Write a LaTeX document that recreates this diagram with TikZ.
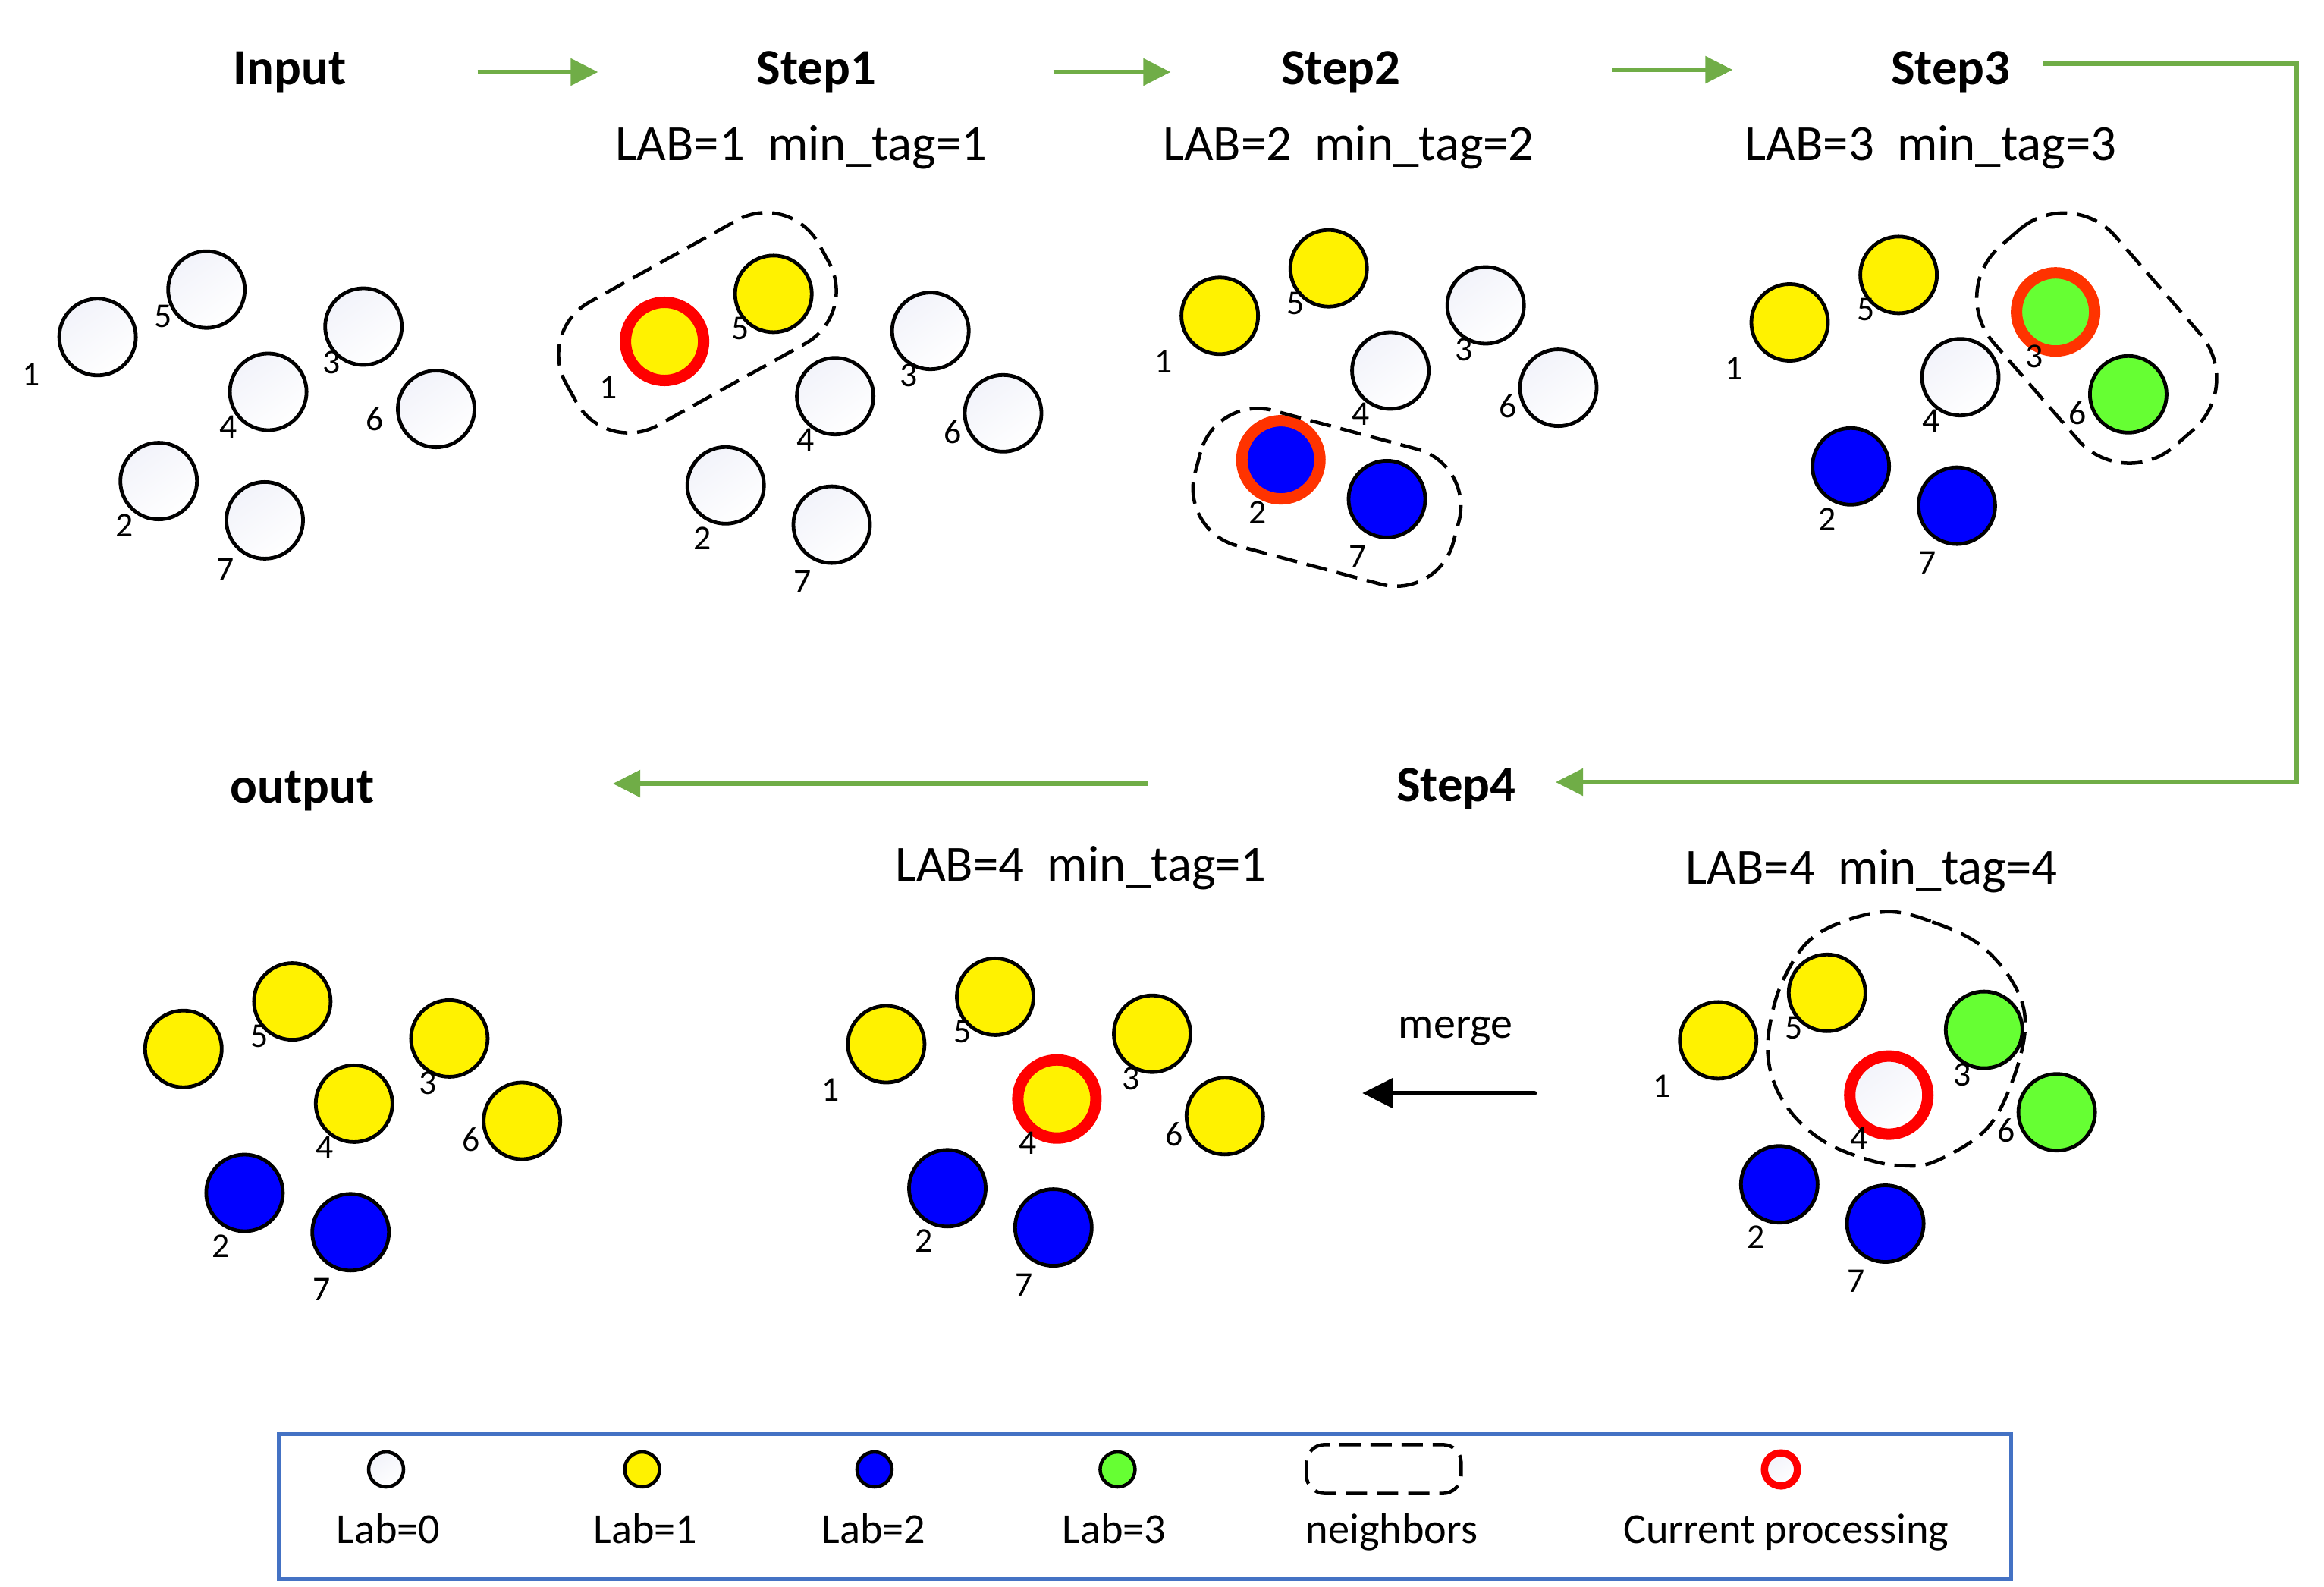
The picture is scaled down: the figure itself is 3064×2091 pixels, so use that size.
\documentclass[tikz,border=0pt]{standalone}
\usepackage{fontspec}
\setmainfont{Carlito}
\usetikzlibrary{arrows.meta}
\definecolor{lgreen}{RGB}{102,255,51}
\definecolor{ored}{RGB}{255,51,0}
\definecolor{agreen}{RGB}{112,173,71}
\definecolor{lbox}{RGB}{68,114,196}
\definecolor{lav}{RGB}{242,243,250}
\tikzset{
  bub/.style={circle, inner sep=0pt, outer sep=0pt, minimum size=1.01cm, draw=black, line width=0.048cm},
  nW/.style={bub, top color=lav, bottom color=white, shading angle=35},
  nY/.style={bub, fill=yellow},
  nB/.style={bub, fill=blue},
  nG/.style={bub, fill=lgreen},
  ringc/.style={minimum size=1.03cm, line width=0.15cm},
  rY/.style={nY, ringc, draw=red},
  rB/.style={nB, ringc, draw=ored},
  rG/.style={nG, ringc, draw=ored},
  rW/.style={nW, ringc, draw=red},
  ttl/.style={font=\fontsize{19}{23}\selectfont\bfseries, anchor=base, inner sep=0pt},
  labtxt/.style={font=\fontsize{19}{23}\selectfont, anchor=base, inner sep=0pt},
  num/.style={font=\fontsize{13}{15}\selectfont, inner sep=0pt},
  legtxt/.style={font=\fontsize{16}{19}\selectfont, anchor=base, inner sep=0pt},
  nbr/.style={draw=black, line width=0.045cm, dash pattern=on 0.28cm off 0.13cm},
  garrow/.style={draw=agreen, line width=0.055cm, -{Triangle[length=0.36cm,width=0.35cm]}},
  legbox/.style={draw=lbox, line width=0.05cm},
}
\newcommand\cpanel[9]{%
  \begin{scope}[shift={#2}]
    \node[#3] (#1c1) at (0,0) {};
    \node[#4] (#1c2) at (80.6,189.8) {};
    \node[#5] (#1c3) at (350.6,-13.8) {};
    \node[#6] (#1c4) at (225,72.2) {};
    \node[#7] (#1c5) at (143.6,-62.6) {};
    \node[#8] (#1c6) at (446.4,94.8) {};
    \node[#9] (#1c7) at (220.4,241.6) {};
  \end{scope}}
\newcommand\clabels[3]{%
  \begin{scope}[shift={#2},shift={#3}]
    \node[num] (#1l5) at (100.2,-16.8) {5};
    \node[num] (#1l3) at (322.2,45) {3};
    \node[num] (#1l4) at (186.2,129.9) {4};
    \node[num] (#1l6) at (379.6,119.2) {6};
    \node[num] (#1l2) at (49.6,259.6) {2};
    \node[num] (#1l7) at (182,317.1) {7};
  \end{scope}}
\newcommand\clabone[3]{%
  \begin{scope}[shift={#2},shift={#3}]
    \node[num] (#1l1) at (-73.8,60.5) {1};
  \end{scope}}
\begin{document}
\begin{tikzpicture}[x=0.01cm,y=-0.01cm]
\useasboundingbox (0,0) rectangle (3064,2091);

% titles
\node[ttl] (tIn) at (382,111.4) {Input};
\node[ttl] (tS1) at (1076.3,111.4) {Step1};
\node[ttl] (tS2) at (1767.9,111.4) {Step2};
\node[ttl] (tS3) at (2572,111.4) {Step3};
\node[labtxt] (lab1) at (1056.7,211.8) {LAB=1~~min\_tag=1};
\node[labtxt] (lab2) at (1777.9,211.8) {LAB=2~~min\_tag=2};
\node[labtxt] (lab3) at (2545.5,211.8) {LAB=3~~min\_tag=3};
\node[ttl] (tOut) at (398.5,1058) {output};
\node[ttl] (tS4) at (1920,1056) {Step4};
\node[labtxt] (lab4a) at (1425,1161.2) {LAB=4~~min\_tag=1};
\node[labtxt] (lab4b) at (2467.6,1165) {LAB=4~~min\_tag=4};
\node[legtxt, font=\fontsize{16.5}{19}\selectfont] (mrg) at (1918.9,1368) {merge};

% arrows
\coordinate (a1s) at (629.5,95); \coordinate (a1e) at (788.4,95);
\coordinate (a2s) at (1388.6,95); \coordinate (a2e) at (1543.3,95);
\coordinate (a3s) at (2125,92); \coordinate (a3e) at (2284.3,92);
\coordinate (a4s) at (2693,84); \coordinate (a4e) at (2051,1031);
\coordinate (c4a) at (3028,84); \coordinate (c4b) at (3028,1031);
\coordinate (a5s) at (1513,1033); \coordinate (a5e) at (808,1033);
\coordinate (m1s) at (2023,1441); \coordinate (m1e) at (1796,1441);
\draw[garrow] (a1s) -- (a1e);
\draw[garrow] (a2s) -- (a2e);
\draw[garrow] (a3s) -- (a3e);
\draw[garrow] (a4s) -- (c4a) -- (c4b) -- (a4e);
\draw[garrow] (a5s) -- (a5e);
\draw[draw=black, line width=0.065cm, line cap=round, -{Triangle[length=0.4cm,width=0.38cm]}] (m1s) -- (m1e);

% panels
\cpanel{in}{(128.6,444.3)}{nW}{nW}{nW}{nW}{nW}{nW}{nW}
\cpanel{sa}{(876.1,450)}{rY}{nW}{nW}{nW}{nY}{nW}{nW}
\cpanel{sb}{(1608.1,416.3)}{nY}{rB}{nW}{nW}{nY}{nW}{nB}
\cpanel{sc}{(2359.5,425)}{nY}{nB}{rG}{nW}{nY}{nG}{nB}
\cpanel{ou}{(241.8,1382.7)}{nY}{nB}{nY}{nY}{nY}{nY}{nB}
\cpanel{mi}{(1168.4,1376.5)}{nY}{nB}{nY}{rY}{nY}{nY}{nB}
\cpanel{sd}{(2265.2,1371.4)}{nY}{nB}{nG}{rW}{nY}{nG}{nB}

% number labels
\clabels{in}{(128.6,444.3)}{(-14,-11)}
\clabone{in}{(128.6,444.3)}{(-14,-11)}
\clabels{sa}{(876.1,450)}{(0,0)}
\clabone{sa}{(876.1,450)}{(0,0)}
\clabels{sb}{(1608.1,416.3)}{(0,0)}
\clabone{sb}{(1608.1,416.3)}{(0,0)}
\clabels{sc}{(2359.5,425)}{(0,0)}
\clabone{sc}{(2359.5,425)}{(0,0)}
\clabels{ou}{(241.8,1382.7)}{(0,0)}
\clabels{mi}{(1168.4,1376.5)}{(0,0)}
\clabone{mi}{(1168.4,1376.5)}{(0,0)}
\clabels{sd}{(2265.2,1371.4)}{(0,0)}
\clabone{sd}{(2265.2,1371.4)}{(0,0)}

% neighbour outlines
\begin{scope}[shift={(919.5,425.5)}, rotate=29]
  \draw[nbr, rounded corners=0.79cm] (-190.3,-92.9) rectangle (190.3,92.9);
\end{scope}
\begin{scope}[shift={(1749.4,655.6)}, rotate=-15]
  \draw[nbr, rounded corners=0.78cm] (-176.3,-92.2) rectangle (176.3,92.2);
\end{scope}
\begin{scope}[shift={(2764.3,445.7)}, rotate=-49]
  \draw[nbr, rounded corners=0.9cm] (-174.8,-106.6) rectangle (174.8,106.6);
\end{scope}
\draw[nbr] plot[smooth cycle, tension=0.6] coordinates {
  (2489.3,1201.8) (2547.3,1215.2) (2609.8,1245.1) (2654.5,1296.4)
  (2670.1,1350) (2654.5,1421.4) (2618.8,1488.4) (2551.8,1530.8)
  (2507.1,1536.6) (2462.5,1528.6) (2408.9,1507.1) (2368.8,1475)
  (2342,1434.8) (2330.8,1390.2) (2335.3,1341.1) (2350.9,1292)
  (2382.1,1242.9) (2426.8,1216.1)};

% legend
\draw[legbox] (367,1890) rectangle (2651.5,2081);
\node[nW, minimum size=0.46cm, line width=0.045cm] (k0) at (509,1937) {};
\node[nY, minimum size=0.46cm, line width=0.045cm] (k1) at (846.6,1937) {};
\node[nB, minimum size=0.46cm, line width=0.045cm] (k2) at (1152.9,1937) {};
\node[nG, minimum size=0.46cm, line width=0.045cm] (k3) at (1473.4,1937) {};
\draw[nbr, rounded corners=0.24cm] (1722.3,1904.3) rectangle (1926.4,1968.6);
\node[nW, draw=red, minimum size=0.435cm, line width=0.095cm] (k5) at (2348,1937) {};
\node[legtxt] (kt0) at (511.8,2034) {Lab=0};
\node[legtxt] (kt1) at (851,2034) {Lab=1};
\node[legtxt] (kt2) at (1152,2034) {Lab=2};
\node[legtxt] (kt3) at (1469,2034) {Lab=3};
\node[legtxt] (kt4) at (1835,2034) {neighbors};
\node[legtxt] (kt5) at (2354.7,2034) {Current processing};
\end{tikzpicture}
\end{document}
